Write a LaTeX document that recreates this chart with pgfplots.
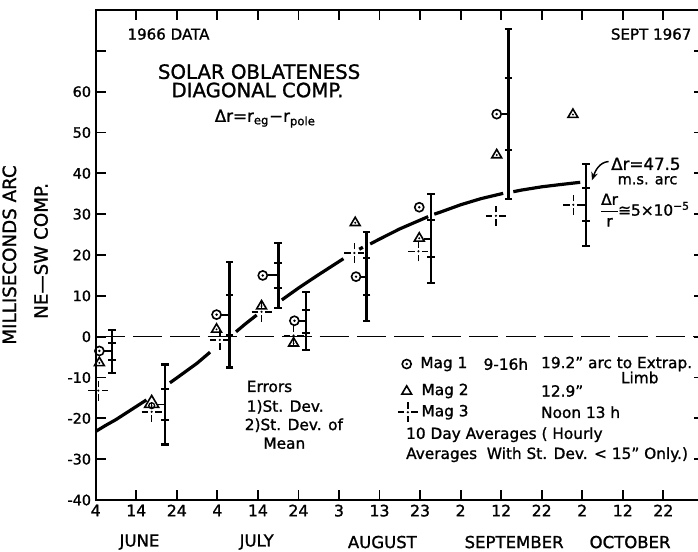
\documentclass[border=0pt]{standalone}
\usepackage{fontspec}
\setmainfont{DejaVu Sans}[FakeBold=1.2]
\usepackage{amsmath}
\usepackage{pgfplots}
\usepackage{pgfplotstable}
\pgfplotsset{compat=1.18}
\usetikzlibrary{arrows.meta}

\pgfdeclareplotmark{magone}{%
  \pgfpathcircle{\pgfpointorigin}{\pgfplotmarksize}%
  \pgfusepathqstroke
  \pgfpathcircle{\pgfpointorigin}{0.3\pgfplotmarksize}%
  \pgfusepathqfill
}
\pgfdeclareplotmark{magtwo}{%
  \pgfpathmoveto{\pgfqpoint{0pt}{1.2\pgfplotmarksize}}%
  \pgfpathlineto{\pgfqpoint{-1.15\pgfplotmarksize}{-0.75\pgfplotmarksize}}%
  \pgfpathlineto{\pgfqpoint{1.15\pgfplotmarksize}{-0.75\pgfplotmarksize}}%
  \pgfpathclose
  \pgfusepathqstroke
  \pgfpathcircle{\pgfqpoint{0pt}{-0.1\pgfplotmarksize}}{0.25\pgfplotmarksize}%
  \pgfusepathqfill
}
\pgfdeclareplotmark{magtwoopen}{%
  \pgfpathmoveto{\pgfqpoint{0pt}{1.2\pgfplotmarksize}}%
  \pgfpathlineto{\pgfqpoint{-1.15\pgfplotmarksize}{-0.75\pgfplotmarksize}}%
  \pgfpathlineto{\pgfqpoint{1.15\pgfplotmarksize}{-0.75\pgfplotmarksize}}%
  \pgfpathclose
  \pgfusepathqstroke
}
\pgfdeclareplotmark{magthree}{%
  \pgfpathmoveto{\pgfqpoint{-\pgfplotmarksize}{0pt}}%
  \pgfpathlineto{\pgfqpoint{-0.35\pgfplotmarksize}{0pt}}%
  \pgfpathmoveto{\pgfqpoint{0.35\pgfplotmarksize}{0pt}}%
  \pgfpathlineto{\pgfqpoint{\pgfplotmarksize}{0pt}}%
  \pgfpathmoveto{\pgfqpoint{0pt}{-\pgfplotmarksize}}%
  \pgfpathlineto{\pgfqpoint{0pt}{-0.35\pgfplotmarksize}}%
  \pgfpathmoveto{\pgfqpoint{0pt}{0.35\pgfplotmarksize}}%
  \pgfpathlineto{\pgfqpoint{0pt}{\pgfplotmarksize}}%
  \pgfusepathqstroke
  \pgfpathcircle{\pgfpointorigin}{0.12\pgfplotmarksize}%
  \pgfusepathqfill
}

% error bars: x = day index (June 4 = 0), y = mean, sd = st. dev., sem = st. dev. of mean
\pgfplotstableread{
x     y      sd     sem
4.0   -3.6   5.3    2.0
17.1  -16.6  9.8    3.9
33.0  5.4    12.95  4.9
45.0  15.0   8.0    3.15
51.9  3.8    7.05   2.85
66.8  14.7   10.95  4.55
82.7  24.0   10.95  4.55
101.8 54.5   20.8   8.9
120.9 32.3   10.0   4.0
}\bars

\pgfplotstableread{
x     y
0.9   -3.5
29.8  5.4
41.2  15.0
49.0  3.9
64.2  14.7
79.8  31.7
98.9  54.5
}\magone

\pgfplotstableread{
x     y
0.9   -6.3
29.8  1.9
40.9  7.6
48.8  -1.5
64.0  28.0
79.8  24.2
98.9  44.6
117.7 54.5
}\magtwo

\pgfplotstableread{
x     y
0.65  -13.2
13.8  -18.4
30.6  -0.8
40.9  6.1
48.8  0.3
63.8  20.5
79.6  20.9
98.7  29.6
117.8 32.3
}\magthree

\newcommand{\fs}[1]{\fontsize{#1}{#1}\selectfont}

\begin{document}
\begin{tikzpicture}
\useasboundingbox (0,0) rectangle (523.5pt,413.25pt);
\clip (0,0) rectangle (523.5pt,413.25pt);
\begin{axis}[
  at={(71.8pt,38.25pt)}, anchor=south west,
  width=456.1pt, height=367.5pt, scale only axis,
  xmin=0, xmax=150, ymin=-40, ymax=80,
  clip=false,
  axis line style={line width=1.6pt},
  tick align=inside,
  major tick length=7.5pt,
  tick style={black, line width=1.4pt},
  xtick={0,10,...,140},
  xticklabels={4,14,24,4,14,24,3,13,23,2,12,22,2,12,22},
  ytick={-40,-30,...,70},
  yticklabels={-40,-30,-20,-10,0,10,20,30,40,50,60,{}},
  xticklabel style={font=\fs{11.8}},
  yticklabel style={font=\fs{10.8}},
  /pgf/number format/assume math mode=true,
  every error bar/.style={draw=black, line width=2pt},
]

% zero line
\addplot[black, line width=1pt, dash pattern=on 22pt off 6pt] coordinates {(0,0) (150,0)};

% fitted curve (drawn in pieces, broken around the data)
\addplot[black, line width=2.4pt] coordinates {(0,-23.2) (2.5,-21.7) (5,-20.3) (7.5,-18.7) (10,-17.1) (12.5,-15.5)};
\addplot[black, line width=2.4pt] coordinates {(18.3,-11.3) (20,-10.1) (22.5,-8.3) (25,-6.5) (28.2,-3.8)};
\addplot[black, line width=2.4pt] coordinates {(34.6,1.2) (37,3.2) (39.7,5.3)};
\addplot[black, line width=2.4pt] coordinates {(45.9,9.0) (50,11.9) (55,15.2) (61.1,19.1)};
\addplot[black, line width=2.4pt] coordinates {(65.0,21.4) (65.9,21.9)};
\addplot[black, line width=2.4pt] coordinates {(67.7,22.7) (70,23.9) (75,26.4) (82,29.4)};
\addplot[black, line width=2.4pt] coordinates {(83.5,30.0) (85,30.5) (90,32.3) (95,33.8) (100.5,35.1)};
\addplot[black, line width=2.4pt] coordinates {(103,35.5) (105,35.9) (110,36.7) (115,37.3) (119.5,37.8)};

% error bars: standard deviation (capped) and standard deviation of mean (ticks)
\addplot[black, mark=none, draw=none, line width=2pt,
  error bars/.cd, y dir=both, y explicit,
  error mark=-, error mark options={draw=black, rotate=90, line width=1.6pt, mark size=2.8pt}]
  table[x=x, y=y, y error=sd] {\bars};
\addplot[black, mark=none, draw=none, line width=2pt,
  error bars/.cd, y dir=both, y explicit,
  error mark=-, error mark options={draw=black, rotate=90, line width=1.5pt, mark size=2.8pt}]
  table[x=x, y=y, y error=sem] {\bars};

% connectors from points to their error bars
\addplot[black, line width=1.4pt] coordinates {(2.1,-3.6) (4.0,-3.6)};
\addplot[black, line width=1.4pt] coordinates {(15.2,-16.6) (17.1,-16.6)};
\addplot[black, line width=1.4pt] coordinates {(31.0,5.4) (33.0,5.4)};
\addplot[black, line width=1.4pt] coordinates {(42.4,15.0) (45.0,15.0)};
\addplot[black, line width=1.4pt] coordinates {(50.2,3.8) (51.9,3.8)};
\addplot[black, line width=1.4pt] coordinates {(65.4,14.7) (66.8,14.7)};
\addplot[black, line width=1.4pt] coordinates {(81.0,24.0) (82.7,24.0)};
\addplot[black, line width=1.4pt] coordinates {(100.1,54.5) (101.8,54.5)};
\addplot[black, line width=1.4pt] coordinates {(119.6,32.3) (120.9,32.3)};

% data points
\addplot[black, only marks, mark=magone, mark size=3.4pt, mark options={line width=1.2pt}] table[x=x,y=y] {\magone};
\addplot[black, only marks, mark=magtwo, mark size=3.2pt, mark options={line width=1.2pt}] table[x=x,y=y] {\magtwo};
\addplot[black, only marks, mark=magthree, mark size=7.5pt, mark options={line width=1.2pt}] table[x=x,y=y] {\magthree};
% June 14 group: circle inside a larger triangle
\addplot[black, only marks, mark=magtwoopen, mark size=4.6pt, mark options={line width=1.2pt}] coordinates {(13.8,-16.2)};
\addplot[black, only marks, mark=magone, mark size=2.2pt, mark options={line width=1.0pt}] coordinates {(13.8,-16.9)};

% legend symbols
\addplot[black, only marks, mark=magone, mark size=3.4pt, mark options={line width=1.2pt}] coordinates {(76.7,-6.7)};
\addplot[black, only marks, mark=magtwoopen, mark size=3.2pt, mark options={line width=1.2pt}] coordinates {(76.7,-13.3)};
\addplot[black, only marks, mark=magthree, mark size=7.5pt, mark options={line width=1.2pt}] coordinates {(77.0,-18.5)};

% texts
\node[font=\fs{11.3}] at (axis cs:17.95,74.1) {1966 DATA};
\node[font=\fs{11.3}] at (axis cs:137.0,74.1) {SEPT 1967};
\node[font=\fs{14.8}, inner sep=0] at (axis cs:40.3,64.9) {SOLAR OBLATENESS};
\node[font=\fs{14.8}, inner sep=0] at (axis cs:39.9,60.4) {DIAGONAL COMP.};
\node[font=\fs{12.5}, anchor=base] at (axis cs:41.8,52.6) {Δr=r\textsubscript{eg}−r\textsubscript{pole}};

\node[font=\fs{11.5}, anchor=west, inner sep=0] at (axis cs:37.2,-12.2) {Errors};
\node[font=\fs{11.5}, anchor=west, inner sep=0] at (axis cs:37.2,-17.2) {1)St. Dev.};
\node[font=\fs{11.5}, anchor=west, inner sep=0] at (axis cs:36.7,-21.7) {2)St. Dev. of};
\node[font=\fs{11.5}, anchor=west, inner sep=0] at (axis cs:41.3,-26.1) {Mean};

\node[font=\fs{11.5}, anchor=west, inner sep=0] at (axis cs:80.0,-6.7) {Mag 1};
\node[font=\fs{11.5}, anchor=west, inner sep=0] at (axis cs:95.6,-6.7) {9-16h};
\node[font=\fs{11.5}, anchor=west, inner sep=0] at (axis cs:109.8,-6.7) {19.2" arc to Extrap.};
\node[font=\fs{11.5}, anchor=west, inner sep=0] at (axis cs:129.5,-10.0) {Limb};
\node[font=\fs{11.5}, anchor=west, inner sep=0] at (axis cs:80.3,-13.3) {Mag 2};
\node[font=\fs{11.5}, anchor=west, inner sep=0] at (axis cs:109.8,-13.3) {12.9"};
\node[font=\fs{11.5}, anchor=west, inner sep=0] at (axis cs:80.3,-18.5) {Mag 3};
\node[font=\fs{11.5}, anchor=west, inner sep=0] at (axis cs:109.8,-18.5) {Noon 13 h};
\node[font=\fs{11.5}, anchor=west, inner sep=0] at (axis cs:76.5,-24.0) {10 Day Averages ( Hourly};
\node[font=\fs{11.5}, anchor=west, inner sep=0] at (axis cs:76.5,-28.9) {Averages\ \ With St. Dev. < 15" Only.)};

\node[font=\fs{12.5}] at (axis cs:135.7,42.3) {Δr=47.5};
\node[font=\fs{10.9}] at (axis cs:136.1,38.3) {m.s. arc};
\node[font=\fs{11.5}, anchor=west, inner sep=0] at (axis cs:124.2,31.0) {$\dfrac{\text{Δr}}{\text{r}}$\kern-1pt≅5×10\textsuperscript{−5}};
\draw[black, line width=1.1pt, -{Stealth[length=6pt,width=5pt]}] (axis cs:126.5,42.9) .. controls (axis cs:124.2,42.7) and (axis cs:123.2,40.6) .. (axis cs:122.4,38.3);

% month labels
\node[font=\fs{12.4}] at (axis cs:10.8,-50.3) {JUNE};
\node[font=\fs{12.4}] at (axis cs:39.7,-50.3) {JULY};
\node[font=\fs{12.4}] at (axis cs:70.7,-50.3) {AUGUST};
\node[font=\fs{12.4}] at (axis cs:103.2,-50.3) {SEPTEMBER};
\node[font=\fs{12.4}] at (axis cs:131.8,-50.3) {OCTOBER};

% y axis title
\node[font=\fs{13.7}, rotate=90] at (axis cs:-21.3,20.0) {MILLISECONDS ARC};
\node[font=\fs{13.7}, rotate=90] at (axis cs:-13.5,21.0) {NE—SW COMP.};
\end{axis}
\end{tikzpicture}
\end{document}
